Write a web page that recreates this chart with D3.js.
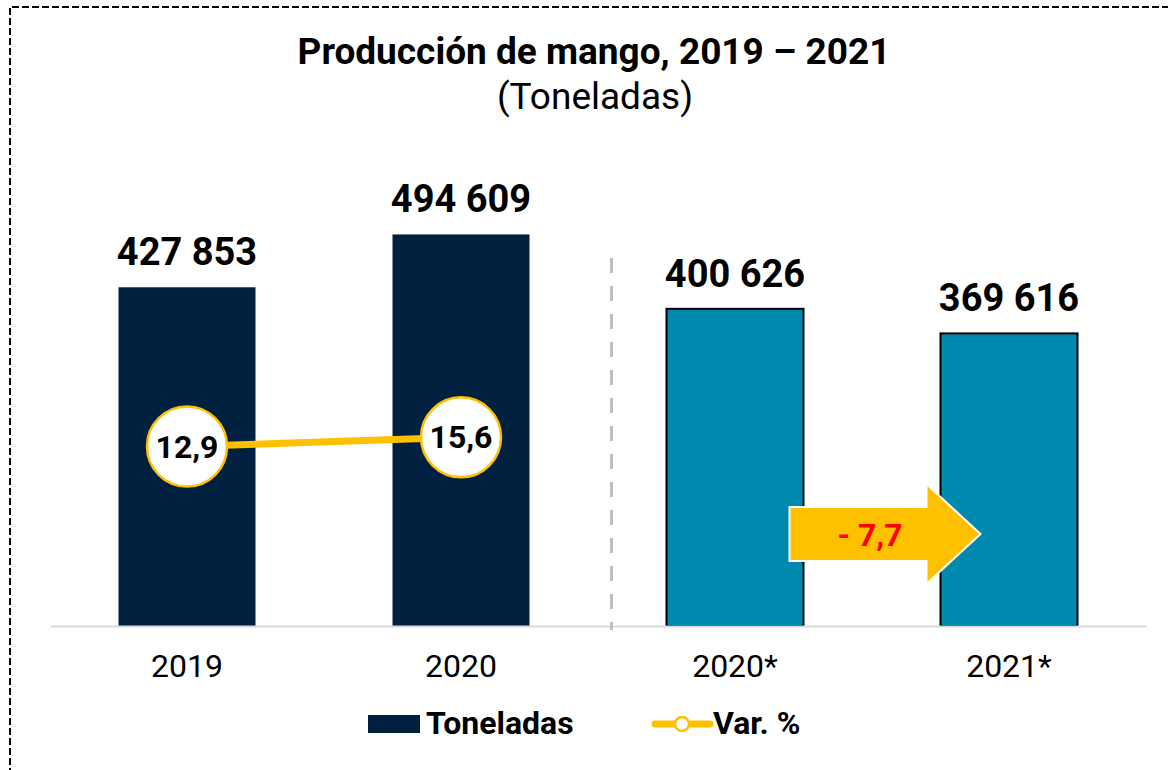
<!DOCTYPE html>
<html>
<head>
<meta charset="utf-8">
<script src="https://cdn.jsdelivr.net/npm/d3@7"></script>
<style>
  body { margin: 0; background: #fff; }
  text { font-family: Roboto, "Liberation Sans", sans-serif; }
</style>
</head>
<body>
<div id="chart"></div>
<script>
// datos
const categories = ["2019", "2020", "2020*", "2021*"];
const toneladas = [427853, 494609, 400626, 369616];
const varCats = ["2019", "2020"];
const varPct = [12.9, 15.6];
const varArrow = "- 7,7";

const width = 1168;
const height = 770;

const svg = d3.select("#chart").append("svg")
  .attr("width", width)
  .attr("height", height);

// borde punteado
svg.append("path")
  .attr("d", `M10,${height + 5} L10,7 L${width + 5},7`)
  .attr("fill", "none")
  .attr("stroke", "#000")
  .attr("stroke-width", 2)
  .attr("stroke-dasharray", "7,3");

// titulo
svg.append("text")
  .attr("x", 594).attr("y", 64)
  .attr("text-anchor", "middle")
  .attr("font-size", 37).attr("font-weight", "bold")
  .text("Producción de mango, 2019 – 2021");
svg.append("text")
  .attr("x", 595).attr("y", 109)
  .attr("text-anchor", "middle")
  .attr("font-size", 37)
  .text("(Toneladas)");

// escalas
const xScale = d3.scaleBand()
  .domain(categories)
  .range([50, 1146])
  .paddingInner(0.5)
  .paddingOuter(0.25);

const yScale = d3.scaleLinear()
  .domain([0, 600000])
  .range([626, 151]);

const y2Scale = d3.scaleLinear()
  .domain([-40, 100])
  .range([626, 151]);

const colors = ["#002040", "#002040", "#0089AF", "#0089AF"];

// barras
svg.selectAll(".bar")
  .data(toneladas)
  .enter()
  .append("rect")
  .attr("class", "bar")
  .attr("x", (d, i) => xScale(categories[i]))
  .attr("y", d => yScale(d))
  .attr("width", xScale.bandwidth())
  .attr("height", d => yScale(0) - yScale(d))
  .attr("fill", (d, i) => colors[i])
  .attr("stroke", (d, i) => i >= 2 ? "#000" : "none")
  .attr("stroke-width", 2);

// eje x
const xAxis = d3.axisBottom(xScale).tickSize(0).tickPadding(28);
const gx = svg.append("g")
  .attr("transform", `translate(0, ${yScale(0)})`)
  .call(xAxis);
gx.select(".domain").attr("stroke", "#d9d9d9").attr("stroke-width", 2);
gx.selectAll("text")
  .attr("font-size", 32)
  .attr("fill", "#000")
  .style("font-family", "Roboto, sans-serif");

// etiquetas de valor
const fmt = v => d3.format(",")(v).replace(/,/g, " ");
svg.selectAll(".lbl")
  .data(toneladas)
  .enter()
  .append("text")
  .attr("class", "lbl")
  .attr("x", (d, i) => xScale(categories[i]) + xScale.bandwidth() / 2)
  .attr("y", d => yScale(d) - 22)
  .attr("text-anchor", "middle")
  .attr("font-size", 38)
  .attr("font-weight", "bold")
  .text(d => fmt(d));

// separador
const sepX = xScale("2020*") - 55;
svg.append("line")
  .attr("x1", sepX).attr("x2", sepX)
  .attr("y1", 258).attr("y2", yScale(0) + 4)
  .attr("stroke", "#bfbfbf")
  .attr("stroke-width", 3)
  .attr("stroke-dasharray", "15,13");

// linea var %
const cx = c => xScale(c) + xScale.bandwidth() / 2;
const line = d3.line()
  .x((d, i) => cx(varCats[i]))
  .y(d => y2Scale(d));
svg.append("path")
  .datum(varPct)
  .attr("d", line)
  .attr("fill", "none")
  .attr("stroke", "#FFC000")
  .attr("stroke-width", 7);

svg.selectAll(".dot")
  .data(varPct)
  .enter()
  .append("circle")
  .attr("cx", (d, i) => cx(varCats[i]))
  .attr("cy", d => y2Scale(d))
  .attr("r", 40)
  .attr("fill", "#fff")
  .attr("stroke", "#FFC000")
  .attr("stroke-width", 2.5);

svg.selectAll(".dotlbl")
  .data(varPct)
  .enter()
  .append("text")
  .attr("x", (d, i) => cx(varCats[i]))
  .attr("y", d => y2Scale(d) + 11)
  .attr("text-anchor", "middle")
  .attr("font-size", 32)
  .attr("font-weight", "bold")
  .text(d => d3.format(".1f")(d).replace(".", ","));

// flecha
const ax0 = xScale("2020*") + xScale.bandwidth() - 14;
const ax1 = xScale("2021*") + 40;
const ay = 534;
const headW = 54;
const bodyH = 27;
const headH = 50;
const arrow = d3.path();
arrow.moveTo(ax0, ay - bodyH);
arrow.lineTo(ax1 - headW, ay - bodyH);
arrow.lineTo(ax1 - headW, ay - headH);
arrow.lineTo(ax1, ay);
arrow.lineTo(ax1 - headW, ay + headH);
arrow.lineTo(ax1 - headW, ay + bodyH);
arrow.lineTo(ax0, ay + bodyH);
arrow.closePath();
svg.append("path")
  .attr("d", arrow.toString())
  .attr("fill", "#FFC000")
  .attr("stroke", "#fff")
  .attr("stroke-width", 2);
svg.append("text")
  .attr("x", 870).attr("y", ay + 12)
  .attr("text-anchor", "middle")
  .attr("font-size", 32)
  .attr("font-weight", "bold")
  .attr("fill", "#FF0000")
  .text(varArrow);

// leyenda
const legend = svg.append("g");
legend.append("rect")
  .attr("x", 368).attr("y", 715)
  .attr("width", 52).attr("height", 18)
  .attr("fill", "#002040");
legend.append("text")
  .attr("x", 426).attr("y", 734)
  .attr("font-size", 32).attr("font-weight", "bold")
  .text("Toneladas");
legend.append("line")
  .attr("x1", 655).attr("x2", 710)
  .attr("y1", 724).attr("y2", 724)
  .attr("stroke", "#FFC000")
  .attr("stroke-width", 7)
  .attr("stroke-linecap", "round");
legend.append("circle")
  .attr("cx", 682).attr("cy", 724).attr("r", 7)
  .attr("fill", "#fff")
  .attr("stroke", "#FFC000")
  .attr("stroke-width", 2.5);
legend.append("text")
  .attr("x", 713).attr("y", 734)
  .attr("font-size", 32).attr("font-weight", "bold")
  .text("Var. %");
</script>
</body>
</html>
